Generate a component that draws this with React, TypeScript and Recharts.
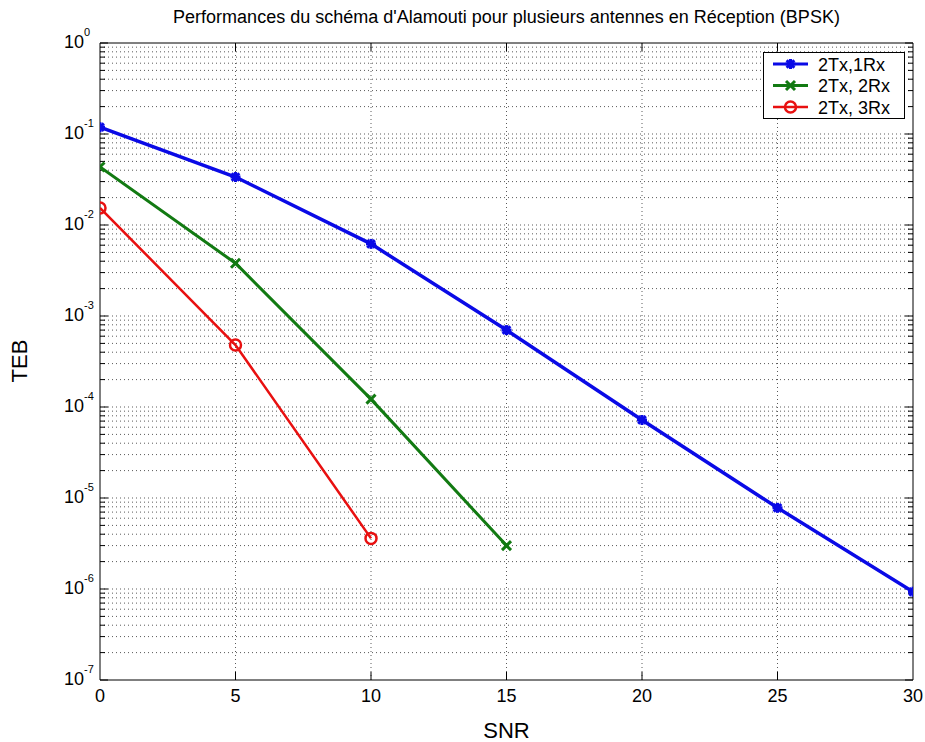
import React from 'react';
import { LineChart, Line, XAxis, YAxis, ReferenceLine, ReferenceArea, Legend } from 'recharts';

const FONT = '"Liberation Sans", Arial, Helvetica, sans-serif';

// ---- data ----
const snr = [0, 5, 10, 15, 20, 25, 30];
const teb1Rx = [0.119, 0.0337, 0.0062, 7.0e-4, 7.2e-5, 7.8e-6, 9.3e-7];
const teb2Rx = [0.0434, 3.8e-3, 1.22e-4, 3.0e-6];
const teb3Rx = [0.0154, 4.8e-4, 3.6e-6];

const seriesNames = ['2Tx,1Rx', '2Tx, 2Rx', '2Tx, 3Rx'];
const seriesColors = ['#0a0ae6', '#127a12', '#e81010'];

const xTicks = [0, 5, 10, 15, 20, 25, 30];
const yTicks = [1e-7, 1e-6, 1e-5, 1e-4, 1e-3, 1e-2, 1e-1, 1];
const minorMultipliers = [2, 3, 4, 5, 6, 7, 8, 9];

const titleText = "Performances du schéma d'Alamouti pour plusieurs antennes en Réception (BPSK)";
const xLabel = 'SNR';
const yLabel = 'TEB';

const data = snr.map((s, i) => ({
  snr: s,
  r1: teb1Rx[i] ?? null,
  r2: teb2Rx[i] ?? null,
  r3: teb3Rx[i] ?? null,
}));

const minorValues: number[] = [];
yTicks.slice(0, -1).forEach((d) => minorMultipliers.forEach((m) => minorValues.push(d * m)));

const GRID = '#5a5a5a';

// ---- markers ----
const starMark = (cx: number, cy: number, color: string, key?: string) => (
  <g key={key}>
    <line x1={cx - 5} y1={cy} x2={cx + 5} y2={cy} stroke={color} strokeWidth={3} />
    <line x1={cx} y1={cy - 5} x2={cx} y2={cy + 5} stroke={color} strokeWidth={3} />
    <line x1={cx - 3.8} y1={cy - 3.8} x2={cx + 3.8} y2={cy + 3.8} stroke={color} strokeWidth={3} />
    <line x1={cx - 3.8} y1={cy + 3.8} x2={cx + 3.8} y2={cy - 3.8} stroke={color} strokeWidth={3} />
    <circle cx={cx} cy={cy} r={3} fill={color} />
  </g>
);
const xMark = (cx: number, cy: number, color: string, key?: string) => (
  <g key={key}>
    <line x1={cx - 4.5} y1={cy - 4.5} x2={cx + 4.5} y2={cy + 4.5} stroke={color} strokeWidth={3} />
    <line x1={cx - 4.5} y1={cy + 4.5} x2={cx + 4.5} y2={cy - 4.5} stroke={color} strokeWidth={3} />
  </g>
);
const oMark = (cx: number, cy: number, color: string, key?: string) => (
  <circle key={key} cx={cx} cy={cy} r={5.5} fill="none" stroke={color} strokeWidth={2.5} />
);
const markers = [starMark, xMark, oMark];

const makeDot = (idx: number) => (p: any) => {
  const k = `dot-${idx}-${p.index}`;
  if (p.cx == null || p.cy == null || p.value == null) return <g key={k} />;
  return markers[idx](p.cx, p.cy, seriesColors[idx], k);
};

// ---- ticks ----
const YTick = (p: any) => {
  const { x, y, payload } = p;
  const e = Math.round(Math.log10(payload.value));
  return (
    <g>
      <text x={x - 16} y={y + 5} textAnchor="end" fontSize={18} fontFamily={FONT} fill="#000">10</text>
      <text x={x - 16} y={y - 7} textAnchor="start" fontSize={11} fontFamily={FONT} fill="#000">{String(e)}</text>
    </g>
  );
};

const XTick = (p: any) => {
  const { x, y, payload } = p;
  return (
    <text x={x} y={y + 22} textAnchor="middle" fontSize={18} fontFamily={FONT} fill="#000">{payload.value}</text>
  );
};

// grid line shapes with inner tick marks
const hLineShape = (tickLen: number, dotted: boolean) => (p: any) => {
  const { x1, y1, x2, y2 } = p;
  return (
    <g>
      {dotted && <line x1={x1} y1={y1} x2={x2} y2={y2} stroke={GRID} strokeWidth={1} strokeDasharray="1 3" />}
      <line x1={x1} y1={y1} x2={x1 + tickLen} y2={y1} stroke="#000" strokeWidth={1} />
      <line x1={x2 - tickLen} y1={y2} x2={x2} y2={y2} stroke="#000" strokeWidth={1} />
    </g>
  );
};
const vLineShape = (p: any) => {
  const { x1, y1, x2, y2 } = p;
  const top = Math.min(y1, y2);
  const bot = Math.max(y1, y2);
  return (
    <g>
      <line x1={x1} y1={top} x2={x2} y2={bot} stroke={GRID} strokeWidth={1} strokeDasharray="1 3" />
      <line x1={x1} y1={top} x2={x1} y2={top + 8} stroke="#000" strokeWidth={1} />
      <line x1={x1} y1={bot - 8} x2={x1} y2={bot} stroke="#000" strokeWidth={1} />
    </g>
  );
};

const LegendBox = () => (
  <svg width={142} height={67} style={{ display: 'block' }}>
    <rect x={0.5} y={0.5} width={141} height={66} fill="#fff" stroke="#000" strokeWidth={1} />
    {seriesNames.map((n, i) => {
      const cy = 12 + i * 21.5;
      return (
        <g key={n}>
          <line x1={10} y1={cy} x2={45} y2={cy} stroke={seriesColors[i]} strokeWidth={i === 2 ? 2.5 : 3} />
          {markers[i](27.5, cy, seriesColors[i])}
          <text x={55} y={cy + 6.5} fontSize={18} fontFamily={FONT} fill="#000">{n}</text>
        </g>
      );
    })}
  </svg>
);

export default function App() {
  return (
    <div style={{ position: 'absolute', left: 0, top: 0, width: 925, height: 742, background: '#fff' }}>
      <div
        style={{
          position: 'absolute', left: 100, top: 7, width: 813, textAlign: 'center',
          fontFamily: FONT, fontSize: 18, lineHeight: '20px', color: '#000', whiteSpace: 'nowrap',
        }}
      >
        {titleText}
      </div>
      <LineChart width={925} height={742} data={data} margin={{ top: 43, right: 12, bottom: 0, left: 0 }}>
        <XAxis
          dataKey="snr"
          type="number"
          domain={[0, 30]}
          ticks={xTicks}
          tick={<XTick />}
          tickLine={false}
          axisLine={false}
          tickSize={0}
          tickMargin={0}
          height={62}
          allowDataOverflow
          label={{ value: xLabel, position: 'insideBottom', offset: 4, fontSize: 22, fontFamily: FONT, fill: '#000' }}
        />
        <YAxis
          scale="log"
          domain={[1e-7, 1]}
          ticks={yTicks}
          tick={<YTick />}
          tickLine={false}
          axisLine={false}
          tickSize={0}
          tickMargin={0}
          width={100}
          allowDataOverflow
          label={{
            content: () => (
              <text x={27} y={361} transform="rotate(-90 27 361)" textAnchor="middle" fontSize={22} fontFamily={FONT} fill="#000">
                {yLabel}
              </text>
            ),
          }}
        />
        {minorValues.map((v) => (
          <ReferenceLine key={`m-${v}`} y={v} ifOverflow="visible" shape={hLineShape(5, true)} />
        ))}
        {yTicks.map((v, i) => (
          <ReferenceLine
            key={`M-${v}`}
            y={v}
            ifOverflow="visible"
            shape={hLineShape(8, i !== 0 && i !== yTicks.length - 1)}
          />
        ))}
        {xTicks.slice(1, -1).map((v) => (
          <ReferenceLine key={`v-${v}`} x={v} ifOverflow="visible" shape={vLineShape} />
        ))}
        <ReferenceArea x1={0} x2={30} y1={1e-7} y2={1} fill="none" stroke="#000" strokeWidth={1} ifOverflow="visible" />
        <Line
          dataKey="r1"
          name={seriesNames[0]}
          stroke={seriesColors[0]}
          strokeWidth={3.5}
          dot={makeDot(0)}
          activeDot={false}
          isAnimationActive={false}
        />
        <Line
          dataKey="r2"
          name={seriesNames[1]}
          stroke={seriesColors[1]}
          strokeWidth={3}
          dot={makeDot(1)}
          activeDot={false}
          isAnimationActive={false}
        />
        <Line
          dataKey="r3"
          name={seriesNames[2]}
          stroke={seriesColors[2]}
          strokeWidth={2.5}
          dot={makeDot(2)}
          activeDot={false}
          isAnimationActive={false}
        />
        <Legend
          layout="horizontal"
          verticalAlign="middle"
          align="center"
          wrapperStyle={{ left: 763, top: 52, width: 142, height: 67 }}
          content={() => <LegendBox />}
        />
      </LineChart>
    </div>
  );
}
